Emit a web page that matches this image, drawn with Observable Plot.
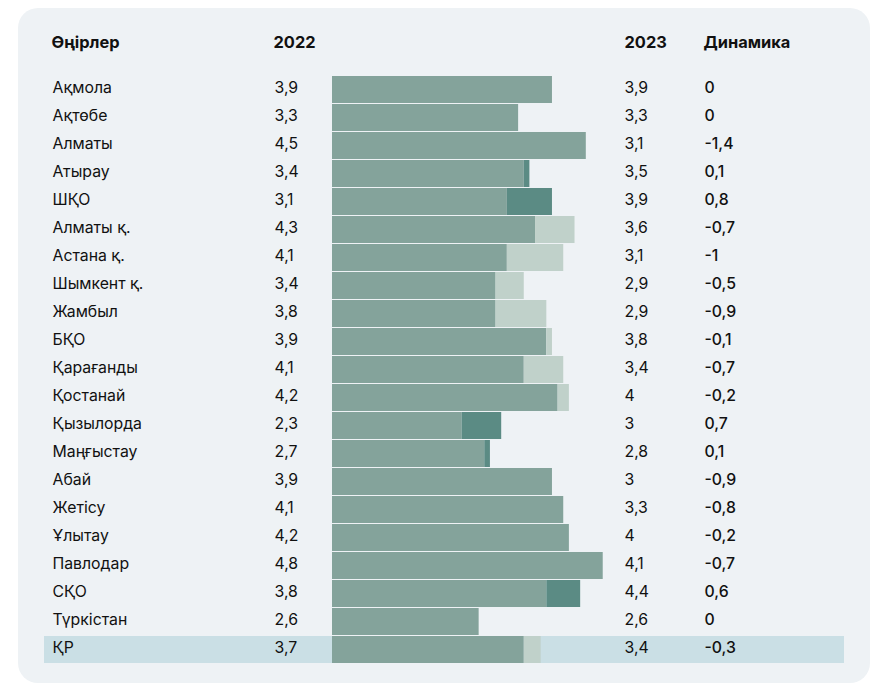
<!DOCTYPE html>
<html>
<head>
<meta charset="utf-8">
<script src="https://cdn.jsdelivr.net/npm/d3@7"></script>
<script src="https://cdn.jsdelivr.net/npm/@observablehq/plot@0.6"></script>
<style>
  html, body { margin: 0; padding: 0; background: #ffffff; }
  body { width: 872px; height: 683px; position: relative; overflow: hidden; font-family: Inter, "Noto Sans", sans-serif; }
  #panel { position: absolute; left: 18px; top: 8px; width: 852px; height: 675px; background: #eef2f5; border-radius: 20px; }
  #chart { position: absolute; left: 0; top: 0; }
  #chart svg { background: transparent; overflow: visible; }
</style>
</head>
<body>
<div id="panel"></div>
<div id="chart"></div>
<script>
const regions = ["Ақмола","Ақтөбе","Алматы","Атырау","ШҚО","Алматы қ.","Астана қ.","Шымкент қ.","Жамбыл","БҚО","Қарағанды","Қостанай","Қызылорда","Маңғыстау","Абай","Жетісу","Ұлытау","Павлодар","СҚО","Түркістан","ҚР"];
const val2022 = [3.9,3.3,4.5,3.4,3.1,4.3,4.1,3.4,3.8,3.9,4.1,4.2,2.3,2.7,3.9,4.1,4.2,4.8,3.8,2.6,3.7];
const val2023 = [3.9,3.3,3.1,3.5,3.9,3.6,3.1,2.9,2.9,3.8,3.4,4.0,3.0,2.8,3.0,3.3,4.0,4.1,4.4,2.6,3.4];
const dynamics = [0,0,-1.4,0.1,0.8,-0.7,-1,-0.5,-0.9,-0.1,-0.7,-0.2,0.7,0.1,-0.9,-0.8,-0.2,-0.7,0.6,0,-0.3];
// bar end shown for 2023 in the picture (some rows show only the 2022 length)
const barEnd2023 = [3.9,3.3,4.5,3.5,3.9,3.6,3.1,2.9,2.9,3.8,3.4,4.0,3.0,2.8,3.9,4.1,4.2,4.8,4.4,2.6,3.4];
const headers = ["Өңірлер","2022","2023","Динамика"];
const totalLabel = "ҚР";

const fmt = v => String(v).replace(".", ",");
const rows = regions.map((r, i) => ({
  region: r, v22: val2022[i], v23: val2023[i], dyn: dynamics[i], b23: barEnd2023[i]
}));

const C_MAIN = "#84a39b", C_UP = "#5b8b84", C_DOWN = "#c0d1ca", C_HL = "#cadfe5";
const FS = 15.8;
const colDx = [8, 230, 581, 660];
const headerDy = -33;

const headerMarks = headers.map((h, i) =>
  Plot.text([h], { text: d => d, frameAnchor: "top-left", textAnchor: "start", lineAnchor: "middle", dx: colDx[i] - 1, dy: headerDy, fill: "#111", fontWeight: 700, fontSize: 16.4 })
);

const plot = Plot.plot({
  width: 872,
  height: 683,
  marginLeft: 44,
  marginRight: 28,
  marginTop: 75,
  marginBottom: 20,
  style: { background: "transparent", fontFamily: "Inter, 'Noto Sans', sans-serif", fontSize: FS + "px", color: "#111" },
  x: { domain: [0, 5], range: [332, 614], axis: null },
  y: { domain: regions, paddingInner: 0.04, paddingOuter: 0, axis: null },
  marks: [
    Plot.cell(rows.filter(d => d.region === totalLabel), { y: "region", fill: C_HL }),
    Plot.barX(rows, { y: "region", x1: 0, x2: d => Math.min(d.v22, d.b23), fill: C_MAIN }),
    Plot.barX(rows.filter(d => d.b23 > d.v22), { y: "region", x1: "v22", x2: "b23", fill: C_UP }),
    Plot.barX(rows.filter(d => d.b23 < d.v22), { y: "region", x1: "b23", x2: "v22", fill: C_DOWN }),
    Plot.text(rows, { y: "region", text: "region", frameAnchor: "left", textAnchor: "start", dx: colDx[0], dy: -2, fill: "#111" }),
    Plot.text(rows, { y: "region", text: d => fmt(d.v22), frameAnchor: "left", textAnchor: "start", dx: colDx[1], dy: -2, fill: "#111" }),
    Plot.text(rows, { y: "region", text: d => fmt(d.v23), frameAnchor: "left", textAnchor: "start", dx: colDx[2] - 1, dy: -2, fill: "#111" }),
    Plot.text(rows, { y: "region", text: d => fmt(d.dyn), frameAnchor: "left", textAnchor: "start", dx: colDx[3], dy: -2, fill: "#111", fontWeight: 500 }),
    ...headerMarks
  ]
});
document.getElementById("chart").appendChild(plot);
</script>
</body>
</html>
